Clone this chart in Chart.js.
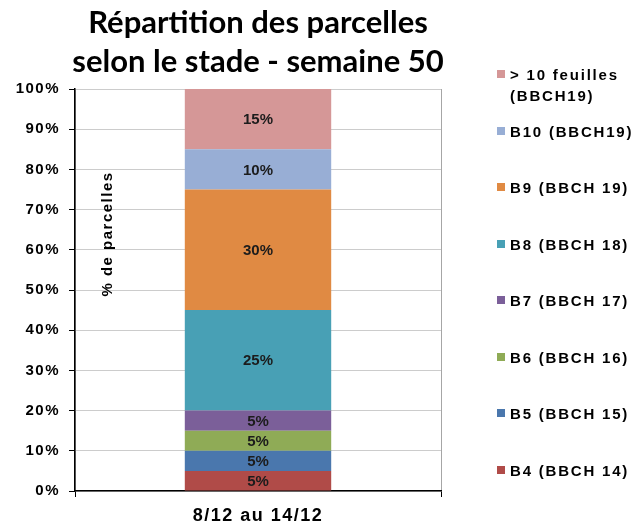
<!DOCTYPE html>
<html>
<head>
<meta charset="utf-8">
<script src="https://cdn.jsdelivr.net/npm/chart.js@4"></script>
<style>
    body { margin: 0; background: #fff; }
    #wrap { position: relative; width: 643px; height: 526px; }
    #legend {
        position: absolute; left: 497px; top: 0;
        font: bold 15px Arial, "Liberation Sans", sans-serif;
        letter-spacing: 1.8px; color: #000;
    }
    .item { position: absolute; left: 0; white-space: nowrap; line-height: 21px; }
    .sw { position: absolute; left: 0; top: 6px; width: 8px; height: 8px; }
    .txt { position: absolute; left: 13px; top: 0; }
</style>
</head>
<body>
<div id="wrap">
    <canvas id="stadeChart" width="643" height="526"></canvas>
    <div id="legend"></div>
</div>
<script>
// DATA
const categories = ['8/12 au 14/12'];
const stageLabels = [
    'B4 (BBCH 14)', 'B5 (BBCH 15)', 'B6 (BBCH 16)', 'B7 (BBCH 17)',
    'B8 (BBCH 18)', 'B9 (BBCH 19)', 'B10 (BBCH19)', '> 10 feuilles (BBCH19)'
];
const stageValues = [5, 5, 5, 5, 25, 30, 10, 15]; // % of plots, one week only
const stageColors = [
    '#b04b48', '#4a77ad', '#8fab56', '#7b5f99',
    '#48a0b5', '#e08a43', '#98aed5', '#d59797'
];
const yTickValues = [0, 10, 20, 30, 40, 50, 60, 70, 80, 90, 100];

const FONT = 'Arial, "Liberation Sans", sans-serif';

// Excel text looks stretched, so add some letter spacing to the axis text
const spacing = {
    id: 'spacing',
    beforeLayout(chart) { chart.ctx.letterSpacing = '1.5px'; },
    beforeDraw(chart) { chart.ctx.letterSpacing = '1.5px'; }
};

// Title, y axis title and the value inside every segment
const extras = {
    id: 'extras',
    afterDatasetsDraw(chart) {
        const ctx = chart.ctx;
        const area = chart.chartArea;
        ctx.save();
        ctx.letterSpacing = '0px';
        ctx.fillStyle = '#1c1c1c';
        ctx.font = 'bold 15px ' + FONT;
        ctx.textAlign = 'center';
        ctx.textBaseline = 'middle';
        chart.data.datasets.forEach((ds, i) => {
            chart.getDatasetMeta(i).data.forEach((bar, j) => {
                const mid = (bar.y + bar.base) / 2;
                ctx.fillText(ds.data[j] + '%', bar.x, mid + 1);
            });
        });

        // y axis title, sits inside the plot
        ctx.fillStyle = '#000';
        ctx.letterSpacing = '1.5px';
        ctx.font = 'bold 15px ' + FONT;
        ctx.translate(area.left + 33, 234);
        ctx.rotate(-Math.PI / 2);
        ctx.fillText('% de parcelles', 0, 0);
        ctx.restore();

        // chart title, centred over the plot
        ctx.save();
        ctx.letterSpacing = '0px';
        ctx.fillStyle = '#000';
        ctx.font = 'bold 31px Lato, "Open Sans", sans-serif';
        ctx.textAlign = 'center';
        ctx.textBaseline = 'alphabetic';
        const cx = (area.left + area.right) / 2;
        ctx.fillText('Répartition des parcelles', cx, 33);
        ctx.fillText('selon le stade - semaine 50', cx, 72);
        ctx.restore();
    }
};

const ctx = document.getElementById('stadeChart').getContext('2d');
const stadeChart = new Chart(ctx, {
    type: 'bar',
    data: {
        labels: categories,
        datasets: stageLabels.map((label, i) => ({
            label: label,
            data: [stageValues[i]],
            backgroundColor: stageColors[i],
            borderWidth: 0,
            barPercentage: 0.4,
            categoryPercentage: 1
        }))
    },
    options: {
        responsive: false,
        animation: false,
        layout: { padding: { top: 89, right: 202, left: 0, bottom: 0 } },
        plugins: {
            legend: { display: false },
            title: { display: false },
            tooltip: { enabled: false }
        },
        scales: {
            x: {
                stacked: true,
                grid: { offset: true, color: '#a6a6a6', tickColor: '#000', tickLength: 6 },
                border: { color: '#000', width: 1.5 },
                ticks: { color: '#000', padding: 8, font: { family: FONT, size: 18, weight: 'bold' } },
                afterFit: s => { s.height = 35; }
            },
            y: {
                stacked: true,
                min: 0,
                max: 100,
                afterBuildTicks: s => { s.ticks = yTickValues.map(v => ({ value: v })); },
                ticks: {
                    color: '#000',
                    padding: 9,
                    callback: v => v + '%',
                    font: { family: FONT, size: 15, weight: 'bold' }
                },
                grid: { color: '#cccccc', tickColor: '#000', tickLength: 6 },
                border: { color: '#000', width: 1.5 },
                afterFit: s => { s.width = 75; }
            }
        }
    },
    plugins: [spacing, extras]
});

// LEGEND (reverse order, top of stack first)
const legend = document.getElementById('legend');
stageLabels.slice().reverse().forEach((label, k) => {
    const i = stageLabels.length - 1 - k;
    const item = document.createElement('div');
    item.className = 'item';
    item.style.top = (64 + k * 56.5) + 'px';
    const text = label.startsWith('>') ? label.replace(' (', '<br>(') : label;
    item.innerHTML = `<span class="sw" style="background:${stageColors[i]}"></span><span class="txt">${text}</span>`;
    legend.appendChild(item);
});
</script>
</body>
</html>
